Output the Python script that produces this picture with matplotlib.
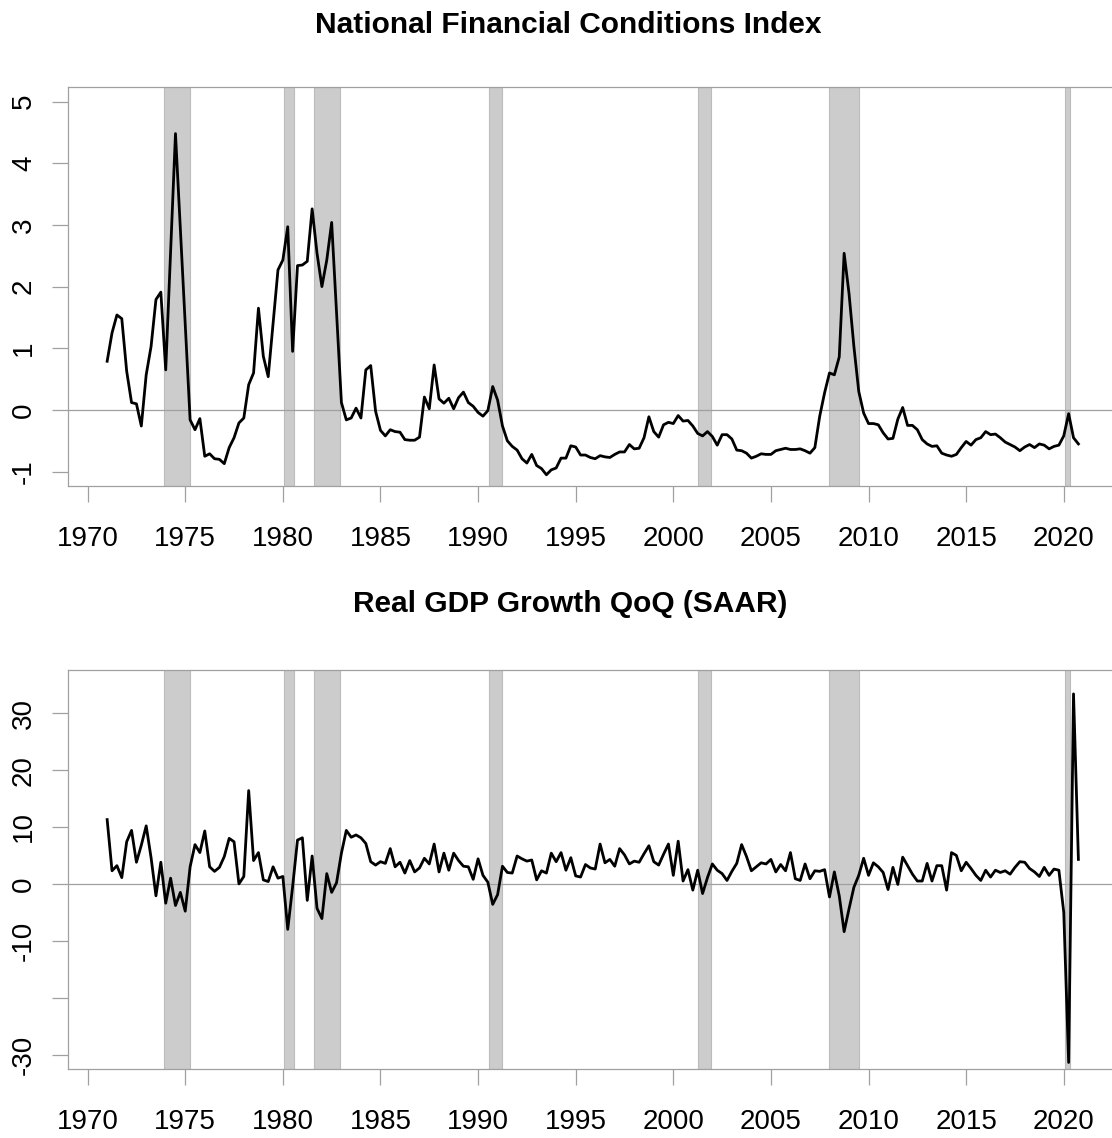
import numpy as np
import pandas as pd
import matplotlib
matplotlib.use("Agg")
import matplotlib.pyplot as plt

plt.rcParams['font.family'] = ['Liberation Sans', 'DejaVu Sans']

# quarterly data, 1971Q1 .. 2020Q4
quarters = pd.period_range('1971Q1', '2020Q4', freq='Q')

nfci = [
    0.79, 1.25, 1.54, 1.48,     # 1971
    0.63, 0.12, 0.10, -0.26,    # 1972
    0.57, 1.03, 1.79, 1.91,     # 1973
    0.65, 2.57, 4.48, 2.93,     # 1974
    1.38, -0.16, -0.32, -0.14,  # 1975
    -0.75, -0.71, -0.79, -0.80, # 1976
    -0.87, -0.61, -0.45, -0.21, # 1977
    -0.13, 0.41, 0.60, 1.65,    # 1978
    0.87, 0.54, 1.41, 2.27,     # 1979
    2.43, 2.97, 0.95, 2.34,     # 1980
    2.35, 2.41, 3.26, 2.54,     # 1981
    2.00, 2.43, 3.04, 1.57,     # 1982
    0.12, -0.16, -0.13, 0.03,   # 1983
    -0.13, 0.65, 0.72, -0.02,   # 1984
    -0.33, -0.42, -0.32, -0.35, # 1985
    -0.36, -0.48, -0.49, -0.49, # 1986
    -0.44, 0.21, 0.02, 0.73,    # 1987
    0.18, 0.11, 0.19, 0.02,     # 1988
    0.20, 0.29, 0.12, 0.06,     # 1989
    -0.04, -0.10, -0.01, 0.38,  # 1990
    0.16, -0.26, -0.50, -0.59,  # 1991
    -0.65, -0.79, -0.86, -0.72, # 1992
    -0.90, -0.95, -1.05, -0.97, # 1993
    -0.94, -0.78, -0.78, -0.58, # 1994
    -0.60, -0.73, -0.73, -0.77, # 1995
    -0.79, -0.74, -0.76, -0.77, # 1996
    -0.72, -0.68, -0.68, -0.56, # 1997
    -0.63, -0.62, -0.45, -0.11, # 1998
    -0.35, -0.44, -0.24, -0.20, # 1999
    -0.22, -0.09, -0.18, -0.17, # 2000
    -0.26, -0.38, -0.42, -0.35, # 2001
    -0.43, -0.57, -0.40, -0.40, # 2002
    -0.47, -0.65, -0.66, -0.70, # 2003
    -0.78, -0.75, -0.71, -0.72, # 2004
    -0.72, -0.66, -0.64, -0.62, # 2005
    -0.64, -0.64, -0.63, -0.66, # 2006
    -0.70, -0.61, -0.10, 0.28,  # 2007
    0.60, 0.57, 0.86, 2.54,     # 2008
    1.89, 1.03, 0.30, -0.05,    # 2009
    -0.22, -0.22, -0.24, -0.37, # 2010
    -0.47, -0.46, -0.15, 0.04,  # 2011
    -0.25, -0.25, -0.32, -0.48, # 2012
    -0.55, -0.59, -0.58, -0.70, # 2013
    -0.73, -0.75, -0.72, -0.61, # 2014
    -0.51, -0.57, -0.48, -0.45, # 2015
    -0.35, -0.40, -0.39, -0.45, # 2016
    -0.52, -0.56, -0.60, -0.66, # 2017
    -0.60, -0.56, -0.61, -0.55, # 2018
    -0.57, -0.63, -0.59, -0.57, # 2019
    -0.42, -0.06, -0.45, -0.55, # 2020
]

gdp = [
    11.3, 2.3, 3.2, 1.1,    # 1971
    7.4, 9.4, 3.8, 6.8,     # 1972
    10.2, 4.6, -2.1, 3.8,   # 1973
    -3.4, 1.0, -3.8, -1.5,  # 1974
    -4.8, 3.0, 6.9, 5.5,    # 1975
    9.3, 3.0, 2.2, 2.9,     # 1976
    4.8, 8.0, 7.4, 0.0,     # 1977
    1.3, 16.4, 4.1, 5.5,    # 1978
    0.7, 0.4, 3.0, 1.0,     # 1979
    1.3, -8.0, -0.5, 7.7,   # 1980
    8.1, -2.9, 4.9, -4.3,   # 1981
    -6.1, 1.8, -1.5, 0.2,   # 1982
    5.4, 9.4, 8.2, 8.6,     # 1983
    8.1, 7.1, 3.9, 3.3,     # 1984
    3.9, 3.6, 6.2, 3.0,     # 1985
    3.8, 1.9, 4.1, 2.1,     # 1986
    2.8, 4.5, 3.5, 7.0,     # 1987
    2.1, 5.4, 2.4, 5.4,     # 1988
    4.1, 3.1, 3.0, 0.8,     # 1989
    4.4, 1.5, 0.3, -3.6,    # 1990
    -1.9, 3.1, 2.0, 1.9,    # 1991
    4.9, 4.4, 4.0, 4.2,     # 1992
    0.7, 2.3, 1.9, 5.4,     # 1993
    3.9, 5.5, 2.4, 4.6,     # 1994
    1.4, 1.2, 3.4, 2.8,     # 1995
    2.6, 7.0, 3.7, 4.3,     # 1996
    3.1, 6.2, 5.1, 3.5,     # 1997
    4.0, 3.8, 5.3, 6.7,     # 1998
    3.9, 3.3, 5.2, 7.0,     # 1999
    1.5, 7.5, 0.5, 2.5,     # 2000
    -1.1, 2.4, -1.7, 1.1,   # 2001
    3.5, 2.4, 1.8, 0.6,     # 2002
    2.2, 3.6, 6.9, 4.8,     # 2003
    2.3, 3.0, 3.7, 3.5,     # 2004
    4.3, 2.1, 3.4, 2.3,     # 2005
    5.5, 0.9, 0.6, 3.5,     # 2006
    0.9, 2.3, 2.2, 2.5,     # 2007
    -2.3, 2.1, -2.1, -8.4,  # 2008
    -4.4, -0.6, 1.5, 4.5,   # 2009
    1.5, 3.7, 3.0, 2.0,     # 2010
    -1.0, 2.9, -0.1, 4.7,   # 2011
    3.2, 1.7, 0.5, 0.5,     # 2012
    3.6, 0.5, 3.2, 3.2,     # 2013
    -1.1, 5.5, 5.0, 2.3,    # 2014
    3.8, 2.7, 1.5, 0.6,     # 2015
    2.4, 1.2, 2.4, 2.0,     # 2016
    2.3, 1.7, 2.9, 3.9,     # 2017
    3.8, 2.7, 2.1, 1.3,     # 2018
    2.9, 1.5, 2.6, 2.4,     # 2019
    -5.0, -31.4, 33.4, 4.3, # 2020
]

# NBER recessions (monthly indicator, decimal years)
rec_start = [1973.917, 1980.083, 1981.583, 1990.583, 2001.25, 2008.0, 2020.083]
rec_end = [1975.25, 1980.583, 1982.917, 1991.25, 2001.917, 2009.5, 2020.333]

x_ticks = list(range(1970, 2021, 5))
top_yticks = [-1, 0, 1, 2, 3, 4, 5]
bot_yticks = [-30, -20, -10, 0, 10, 20, 30]
bot_ylabels = ['-30', '', '-10', '0', '10', '20', '30']  # R drops the overlapping one

x = quarters.year + (quarters.quarter - 1) / 4.0

GRAY = '#a0a0a0'

fig = plt.figure(figsize=(11.12, 11.38), dpi=100)
ax1 = fig.add_axes([0.06142, 0.5725, 0.9433, 0.35132])
ax2 = fig.add_axes([0.06142, 0.06037, 0.9433, 0.35088])


def r_style(ax, y, ylim, yticks, ylabels):
    for s, e in zip(rec_start, rec_end):
        ax.axvspan(s, e, facecolor='#cccccc', edgecolor='#bbbbbb', lw=0.8, zorder=1)
    ax.axhline(0, color=GRAY, lw=0.9, zorder=2)
    ax.plot(x, y, color='black', lw=2.0, zorder=3)
    ax.set_xlim(1969.01, 2022.74)
    pad = (ylim[1] - ylim[0]) * 0.04
    ax.set_ylim(ylim[0] - pad, ylim[1] + pad)
    ax.set_xticks(x_ticks)
    ax.set_xticklabels([str(t) for t in x_ticks])
    ax.set_yticks(yticks)
    ax.set_yticklabels(ylabels)
    for sp in ax.spines.values():
        sp.set_color(GRAY)
        sp.set_linewidth(0.9)
    ax.spines['right'].set_visible(False)  # falls outside the saved picture
    ax.tick_params(axis='both', length=11.5, width=0.9, color=GRAY,
                   labelsize=20, labelcolor='black', direction='out')
    ax.tick_params(axis='x', pad=17)
    ax.tick_params(axis='y', pad=11)
    plt.setp(ax.get_yticklabels(), rotation=90, va='center')


r_style(ax1, nfci, (-1, 5), top_yticks, [str(t) for t in top_yticks])
r_style(ax2, gdp, (-30, 35), bot_yticks, bot_ylabels)

fig.text(0.511, 0.9713, 'National Financial Conditions Index', ha='center',
         va='baseline', fontsize=21.5, fontweight='bold')
fig.text(0.513, 0.4625, 'Real GDP Growth QoQ (SAAR)', ha='center',
         va='baseline', fontsize=21.5, fontweight='bold')

fig.savefig('out.png', dpi=100)
